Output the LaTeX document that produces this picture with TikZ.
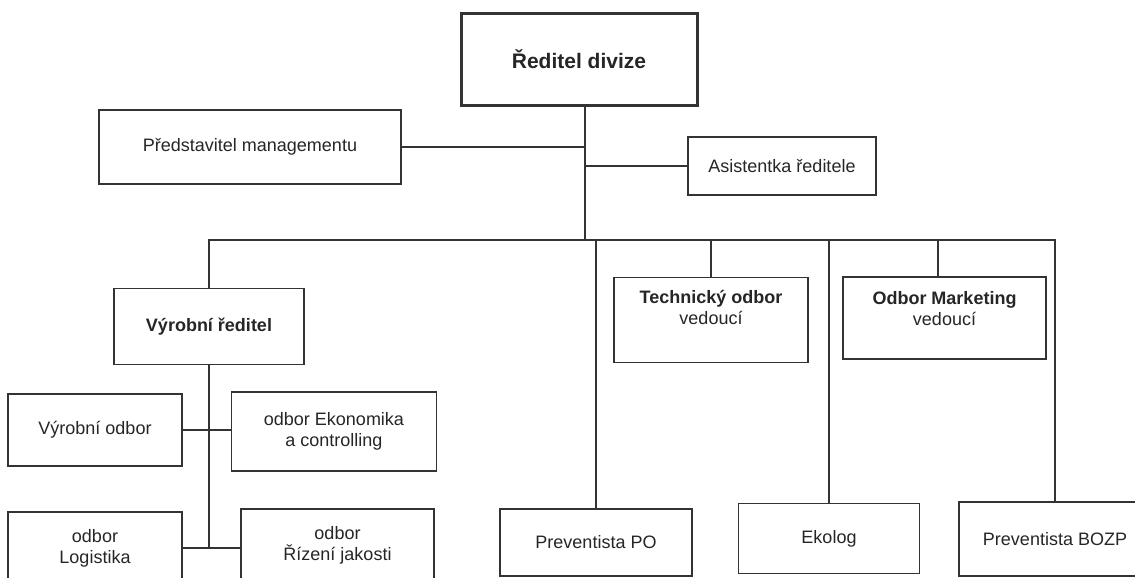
\documentclass[tikz,border=0pt]{standalone}
\usepackage{fontspec}
\setmainfont{Liberation Sans}
\begin{document}
\begin{tikzpicture}[x=1pt,y=-1pt,
  every node/.style={font=\fontsize{18}{21}\selectfont, text=black!85},
  box/.style={draw=black!80, line width=1.8pt, rectangle, inner sep=0pt, align=center},
  headbox/.style={box, line width=3pt},
  link/.style={draw=black!80, line width=1.3pt}]
\useasboundingbox (0,0) rectangle (1135,578);
\fill[white] (0,0) rectangle (1135,578);
\begin{scope}
\clip (0,0) rectangle (1135,578);

% top management
\node[headbox, minimum width=236, minimum height=91] (ceo) at (579,59.5)
  {\fontsize{21}{24}\selectfont\textbf{Ředitel divize}};
\node[box, minimum width=302, minimum height=74] (mgmt) at (250,147) {Představitel managementu};
\node[box, minimum width=188, minimum height=58] (asst) at (782,166) {Asistentka ředitele};

% second level
\node[box, minimum width=190, minimum height=76] (vyr) at (209,326.5) {\textbf{Výrobní ředitel}};
\node[box, minimum width=194, minimum height=85] (tech) at (711,320)
  {\parbox[c][85pt][t]{190pt}{\centering\rule{0pt}{26pt}\textbf{Technický odbor}\\vedoucí}};
\node[box, minimum width=203, minimum height=82] (mkt) at (944.5,318)
  {\parbox[c][82pt][t]{199pt}{\centering\rule{0pt}{27pt}\textbf{Odbor Marketing}\\vedoucí}};

% production departments
\node[box, minimum width=174, minimum height=72] (vod) at (95,430) {Výrobní odbor};
\node[box, minimum width=205, minimum height=79] (ekon) at (334,431.5) {odbor Ekonomika\\a controlling};
\node[box, minimum width=174, minimum height=72] (log) at (95,548) {odbor\\Logistika};
\node[box, minimum width=193, minimum height=73] (riz) at (337.5,545.5) {odbor\\Řízení jakosti};

% staff positions
\node[box, minimum width=192, minimum height=67] (po) at (596,542.5) {Preventista PO};
\node[box, minimum width=181, minimum height=70] (eko) at (829,538.5) {Ekolog};
\node[box, minimum width=192, minimum height=74] (bozp) at (1055,539) {Preventista BOZP};

% main trunk and bus
\coordinate (j0) at (585,240);
\draw[link] (ceo.south -| j0) -- (j0);
\draw[link] (mgmt.east) -- (mgmt.east -| j0);
\draw[link] (asst.west) -- (asst.west -| j0);
\draw[link] (vyr.north) -- (vyr.north |- j0) -- (bozp.north |- j0) -- (bozp.north);
\draw[link] (po.north) -- (po.north |- j0);
\draw[link] (tech.north) -- (tech.north |- j0);
\draw[link] (eko.north) -- (eko.north |- j0);
\draw[link] ([xshift=-6.5pt]mkt.north) -- ([xshift=-6.5pt]mkt.north |- j0);

% production branch
\draw[link] (vyr.south) -- (vyr.south |- log.east);
\draw[link] (vod.east) -- (vod.east -| ekon.west);
\draw[link] (log.east) -- (log.east -| riz.west);
\end{scope}
\end{tikzpicture}
\end{document}
